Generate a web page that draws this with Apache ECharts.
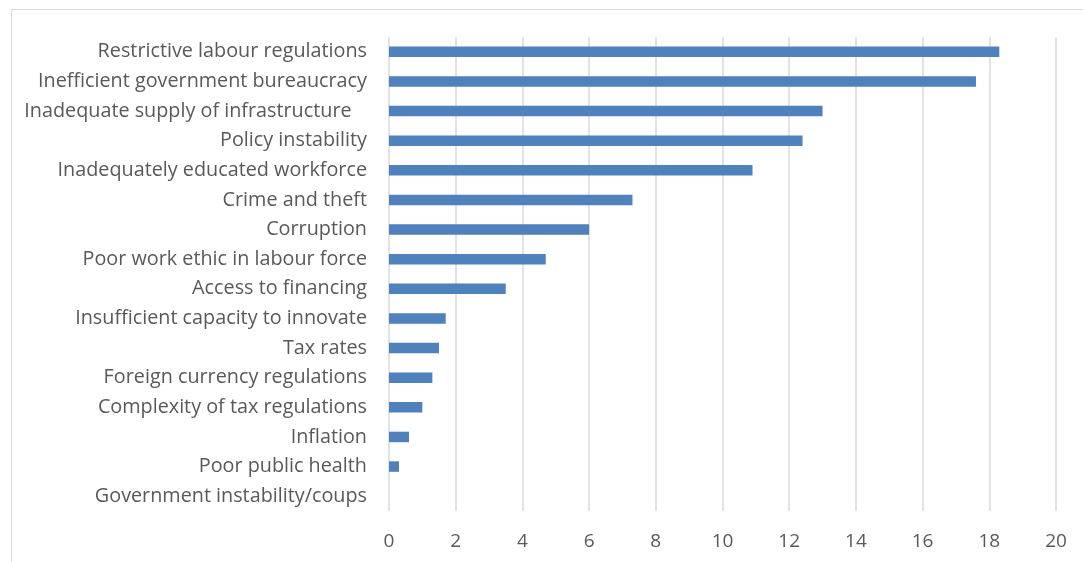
<!DOCTYPE html>
<html>
<head>
<meta charset="utf-8">
<script src="https://cdn.jsdelivr.net/npm/echarts@6/dist/echarts.min.js"></script>
<style>
  html, body { margin: 0; padding: 0; background: #ffffff; }
  #chart { width: 1083px; height: 562px; }
</style>
</head>
<body>
<div id="chart"></div>
<script>
// Most problematic factors for doing business (% of responses)
const categories = [
  'Restrictive labour regulations',
  'Inefficient government bureaucracy',
  'Inadequate supply of infrastructure   ',
  'Policy instability',
  'Inadequately educated workforce',
  'Crime and theft',
  'Corruption',
  'Poor work ethic in labour force',
  'Access to financing',
  'Insufficient capacity to innovate',
  'Tax rates',
  'Foreign currency regulations',
  'Complexity of tax regulations',
  'Inflation',
  'Poor public health',
  'Government instability/coups'
];
const values = [18.3, 17.6, 13.0, 12.4, 10.9, 7.3, 6.0, 4.7, 3.5, 1.7, 1.5, 1.3, 1.0, 0.6, 0.3, 0];
const xTicks = [0, 2, 4, 6, 8, 10, 12, 14, 16, 18, 20];

const chart = echarts.init(document.getElementById('chart'), null, { renderer: 'canvas' });
const labelFont = '"Open Sans", Lato, sans-serif';

chart.setOption({
  animation: false,
  backgroundColor: '#ffffff',
  graphic: [{
    type: 'rect',
    silent: true,
    z: -10,
    shape: { x: 11.5, y: 9.5, width: 1200, height: 700 },
    style: { fill: 'none', stroke: '#d9d9d9', lineWidth: 1 }
  }],
  grid: { left: 389, right: 27, top: 37, bottom: 51, containLabel: false },
  xAxis: {
    type: 'value',
    min: xTicks[0],
    max: xTicks[xTicks.length - 1],
    interval: 2,
    axisLine: { show: false },
    axisTick: { show: false },
    axisLabel: { color: '#595959', fontSize: 19, fontFamily: labelFont, margin: 21 },
    splitLine: { show: true, lineStyle: { color: '#d9d9d9', width: 1.5 } }
  },
  yAxis: {
    type: 'category',
    inverse: true,
    data: categories,
    axisLine: { show: false },
    axisTick: { show: false },
    axisLabel: {
      color: '#595959', fontSize: 19.8, fontFamily: labelFont, margin: 22,
      padding: [3, 0, 0, 0]
    }
  },
  series: [{
    type: 'bar',
    data: values,
    barWidth: 10.5,
    itemStyle: { color: '#4f81bd' }
  }]
});
</script>
</body>
</html>
